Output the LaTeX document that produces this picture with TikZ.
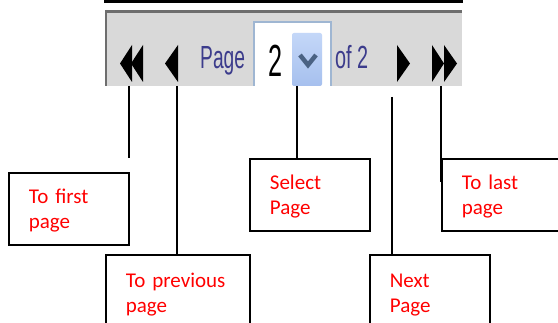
\documentclass[tikz,border=0pt]{standalone}
\usepackage{fontspec}
\usepackage{graphicx}
\usepackage{tikz}
\newfontfamily\boxfont{Carlito}
\newfontfamily\barfont{Liberation Sans}
\definecolor{barbg}{HTML}{D9D9D9}
\definecolor{barline}{HTML}{6E6E6E}
\definecolor{bartext}{HTML}{3C3C8C}
\definecolor{fieldline}{HTML}{9FB6D2}
\definecolor{droptop}{HTML}{C4D7F8}
\definecolor{dropbot}{HTML}{A6C0EE}
\definecolor{chevron}{HTML}{4A6283}

\begin{document}
\begin{tikzpicture}[x=1pt, y=-1pt,
        lblbox/.style={rectangle, draw=black, line width=1.8pt, text=red,
            font=\boxfont\fontsize{21}{25}\selectfont, align=left, anchor=north west,
            inner xsep=20pt, text width=80pt, minimum height=72pt, text height=17pt},
        barlbl/.style={inner sep=0pt, anchor=base west, text=bartext,
            font=\barfont\fontsize{32}{32}\selectfont},
        link/.style={draw=black, line width=1.3pt}]
            \useasboundingbox (0,0) rectangle (558,323);
            \clip (0,0) rectangle (558,323);
            % the pager bar
            \fill[black] (104,0) rectangle (463,3.5);
            \fill[barbg] (105,10) rectangle (462,86);
            \draw[barline, line width=3pt] (105,11.5) -- (462,11.5);
            \draw[barline, line width=2pt] (106,10) -- (106,86);
            \foreach \t/\b in {120/132, 131/143, 165/178}
            {
                \fill (\t,63.5) -- (\b,45) -- (\b,82) -- cycle;
            }
            \foreach \t/\b in {410/397, 444/432, 457/444}
            {
                \fill (\b,45) -- (\t,63.5) -- (\b,82) -- cycle;
            }
            \fill[white] (254,22) rectangle (331,86);
            \draw[fieldline, line width=1.2pt] (254,86) -- (254,22) -- (331,22) -- (331,86);
            \shade[top color=droptop, bottom color=dropbot, rounded corners=2pt] (292,33) rectangle (322,86);
            \draw[chevron, line width=4.5pt] (300,55) -- (308,65) -- (316,55);
            \node[barlbl] (pagelbl) at (200,69) {\scalebox{0.6}[1]{Page}};
            \node[barlbl] (oflbl) at (335,69) {\scalebox{0.62}[1]{of 2}};
            \node[barlbl, text=black, font=\barfont\fontsize{45}{45}\selectfont] (pagenum) at (268,77) {\scalebox{0.56}[1]{2}};
            % where the links leave the bar
            \coordinate (tofirst) at (129,86);
            \coordinate (toprev) at (177,86);
            \coordinate (tosel) at (297,86);
            \coordinate (tonext) at (392,97);
            \coordinate (tolast) at (441,86);
            % the boxes
            \node[lblbox] (firstbox) at (8,172) {To first\\page};
            \node[lblbox, text width=104pt, minimum height=76pt] (prevbox) at (105,254) {To previous\\page};
            \node[lblbox] (selbox) at (249,158) {Select\\Page};
            \node[lblbox, minimum height=76pt] (nextbox) at (369,254) {Next\\Page};
            \node[lblbox] (lastbox) at (441,158) {To last\\page};
            \coordinate (firstend) at (129,158);
            \coordinate (lastend) at (441,182);
            \draw[link] (tofirst) -- (firstend);
            \draw[link] (toprev) -- (toprev |- prevbox.north);
            \draw[link] (tosel) -- (tosel |- selbox.north);
            \draw[link] (tonext) -- (tonext |- nextbox.north);
            \draw[link] (tolast) -- (lastend);
        \end{tikzpicture}
\end{document}
